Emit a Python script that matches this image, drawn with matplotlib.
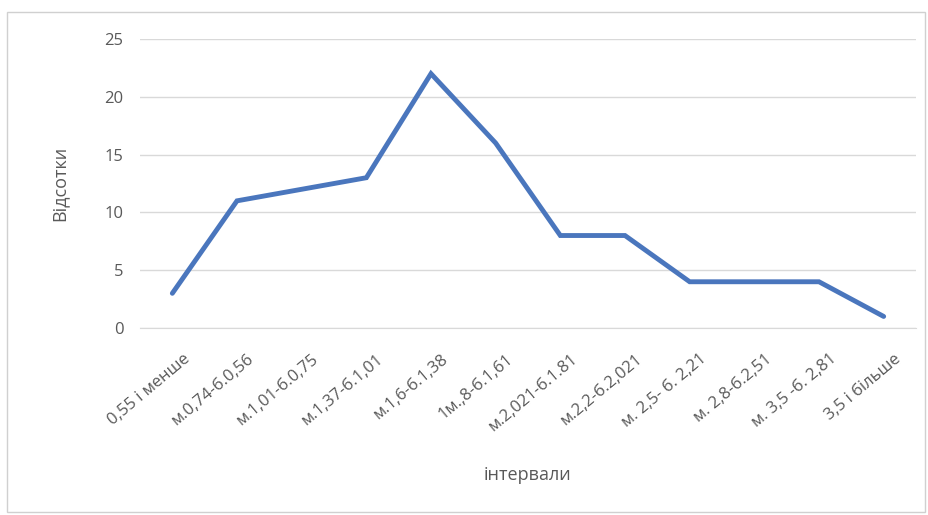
import matplotlib.pyplot as plt
from matplotlib.patches import Rectangle

categories = ['0,55 і менше', 'м.0,74-б.0,56', 'м.1,01-б.0,75', 'м.1,37-б.1,01',
              'м.1,6-б.1,38', '1м.,8-б.1,61', 'м.2,021-б.1.81', 'м.2,2-б.2,021',
              'м. 2,5- б. 2,21', 'м. 2,8-б.2,51', 'м. 3,5 -б. 2,81', '3,5 і більше']
percent = [3, 11, 12, 13, 22, 16, 8, 8, 4, 4, 4, 1]
y_ticks = [0, 5, 10, 15, 20, 25]

plt.rcParams['font.family'] = ['Open Sans', 'DejaVu Sans']

fig = plt.figure(figsize=(9.29, 5.15), dpi=100)
ax = fig.add_axes([140 / 929, 1 - 328 / 515, 776 / 929, 289 / 515])

# light frame around whole chart
fig.patches.append(Rectangle((7 / 929, 3 / 515), 918 / 929, 500 / 515,
                             transform=fig.transFigure, fill=False,
                             edgecolor='#d0d0d0', linewidth=1))

x = list(range(len(categories)))
ax.plot(x, percent, color='#4a76bd', linewidth=3.5, solid_joinstyle='miter',
        solid_capstyle='round', zorder=3)

ax.set_xlim(-0.5, len(categories) - 0.5)
ax.set_ylim(0, 25)
ax.set_yticks(y_ticks)
ax.set_xticks(x)
ax.set_xticklabels([])
# rotated category labels, right end placed a bit right of / below each tick
for i, name in enumerate(categories):
    ax.annotate(name, xy=(i, 0), xycoords=('data', 'axes fraction'),
                xytext=(11, -21), textcoords='offset points',
                rotation=40, rotation_mode='anchor', ha='right', va='center',
                fontsize=12, color='#595959')
ax.grid(axis='y', color='#d9d9d9', linewidth=1)
ax.set_axisbelow(True)
for s in ['top', 'right', 'left']:
    ax.spines[s].set_visible(False)
ax.spines['bottom'].set_color('#d9d9d9')
ax.tick_params(axis='both', length=0, colors='#595959', labelsize=12)
ax.tick_params(axis='y', pad=12)

ax.set_ylabel('Відсотки', fontsize=13, color='#595959', labelpad=26)
ax.text(0.5, -0.51, 'інтервали', transform=ax.transAxes,
        ha='center', va='center', fontsize=13, color='#595959')

fig.savefig('out.png', dpi=100)
